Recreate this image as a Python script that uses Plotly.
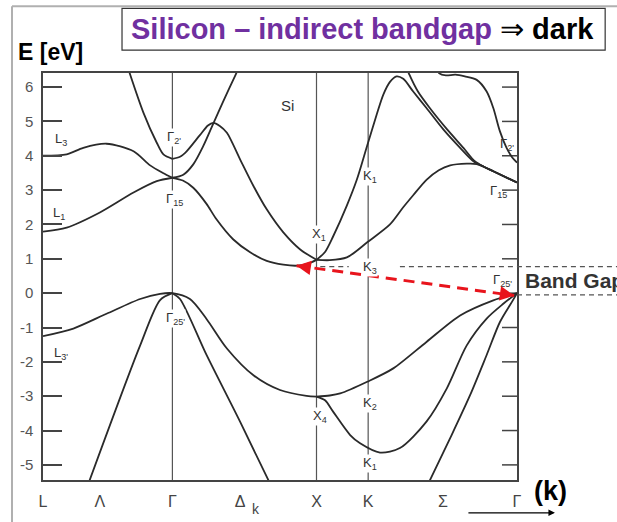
import plotly.graph_objects as go

# ---- high-symmetry points along the k path (fraction of path length) ----
SYM_NAMES = ["L", "Λ", "Γ", "Δ", "X", "K", "Σ", "Γ"]
SYM_K = [0.0, 0.120, 0.273, 0.416, 0.577, 0.686, 0.844, 1.0]
VLINE_K = [0.273, 0.577, 0.686]          # Γ, X, K guide lines
Y_TICKS = [-5, -4, -3, -2, -1, 0, 1, 2, 3, 4, 5, 6]
Y_TICK_TEXT = ["-5", "-4", "-3", "-2", "-1", "0", "1", "2", "3", "4", "5", "6"]

# ---- valence bands ----
VB_TOP_K = [0.0, 0.064, 0.134, 0.205, 0.247, 0.273, 0.310, 0.345, 0.388, 0.444, 0.5, 0.556, 0.577]
VB_TOP_E = [-1.25, -1.03, -0.60, -0.17, -0.02, 0.0, -0.17, -0.75, -1.61, -2.39, -2.82, -2.99, -3.01]
VB_LAM_K = [0.089, 0.205, 0.247, 0.273]
VB_LAM_E = [-5.8, -1.52, -0.20, 0.0]
VB_DEL_K = [0.273, 0.289, 0.345, 0.416, 0.488]
VB_DEL_E = [0.0, -0.17, -1.80, -3.75, -5.8]
VB_K2_K = [0.577, 0.605, 0.627, 0.684, 0.739, 0.809, 0.880, 0.950, 1.0]
VB_K2_E = [-3.01, -2.98, -2.92, -2.58, -2.19, -1.42, -0.65, -0.21, 0.0]
VB_K1_K = [0.577, 0.595, 0.612, 0.648, 0.669, 0.711, 0.753, 0.809, 0.852, 0.894, 0.936, 0.971, 1.0]
VB_K1_E = [-3.01, -3.12, -3.45, -4.13, -4.37, -4.64, -4.51, -3.74, -2.77, -1.52, -0.74, -0.31, 0.0]
VB_SIG_K = [0.804, 0.859, 0.901, 0.936, 0.964, 0.989, 1.0]
VB_SIG_E = [-5.8, -4.22, -2.97, -1.80, -0.84, -0.26, 0.0]

# ---- conduction bands ----
CB_L3_K = [0.0, 0.050, 0.085, 0.134, 0.191, 0.226, 0.253, 0.273]
CB_L3_E = [4.0, 4.04, 4.23, 4.35, 4.13, 3.72, 3.50, 3.36]
CB_L1_K = [0.0, 0.050, 0.120, 0.191, 0.240, 0.273]
CB_L1_E = [1.79, 1.91, 2.35, 2.93, 3.26, 3.36]
CB_G2L_K = [0.177, 0.212, 0.240, 0.254, 0.273]
CB_G2L_E = [6.65, 5.25, 4.38, 4.04, 3.91]
CB_G2X_K = [0.273, 0.289, 0.303, 0.331, 0.348, 0.359, 0.373, 0.388, 0.416, 0.444, 0.472, 0.507, 0.542, 0.577]
CB_G2X_E = [3.91, 3.97, 4.13, 4.60, 4.88, 4.96, 4.87, 4.67, 3.89, 3.12, 2.44, 1.77, 1.28, 0.97]
CB_G15S_K = [0.273, 0.296, 0.317, 0.338, 0.359, 0.380, 0.407, 0.414]
CB_G15S_E = [3.36, 3.45, 3.75, 4.28, 4.93, 5.58, 6.38, 6.6]
CB_D1_K = [0.273, 0.295, 0.317, 0.345, 0.366, 0.401, 0.437, 0.472, 0.507, 0.536, 0.559, 0.577]
CB_D1_E = [3.36, 3.28, 3.07, 2.60, 2.15, 1.57, 1.19, 0.94, 0.83, 0.80, 0.86, 0.97]
CB_K1_K = [0.577, 0.595, 0.612, 0.641, 0.662, 0.684, 0.704, 0.718, 0.732, 0.746, 0.760, 0.781,
           0.809, 0.845, 0.880, 0.908, 0.930, 0.950, 1.0]
CB_K1_E = [0.97, 1.20, 1.65, 2.55, 3.30, 4.30, 5.20, 5.78, 6.15, 6.31, 6.24, 5.87,
           5.39, 4.76, 4.23, 3.84, 3.68, 3.55, 3.22]
CB_B_K = [0.766, 0.773, 0.791, 0.816, 0.853, 0.887, 0.911, 0.930, 0.950, 1.0]
CB_B_E = [6.6, 6.36, 5.87, 5.39, 4.76, 4.23, 3.84, 3.68, 3.55, 3.22]
CB_K3_K = [0.577, 0.605, 0.641, 0.684, 0.732, 0.760, 0.781, 0.809, 0.835, 0.859, 0.894, 0.915,
           0.930, 0.950, 1.0]
CB_K3_E = [0.97, 0.96, 1.04, 1.48, 2.00, 2.50, 2.85, 3.30, 3.58, 3.72, 3.77, 3.76,
           3.68, 3.55, 3.22]
CB_G2R_K = [0.828, 0.836, 0.850, 0.870, 0.890, 0.915, 0.936, 0.950, 0.964, 0.978, 0.990, 1.0]
CB_G2R_E = [6.6, 6.40, 6.34, 6.36, 6.31, 6.21, 5.87, 5.39, 4.71, 4.23, 3.95, 3.80]

# ---- band gap arrow (CB minimum -> VB maximum) ----
GAP_K = [0.535, 0.994]
GAP_E = [0.80, -0.07]

# ---- point labels ----
LABEL_TEXT = ["Si", "L<sub>3</sub>", "L<sub>1</sub>", "Γ<sub>2'</sub>", "Γ<sub>15</sub>",
              "Γ<sub>25'</sub>", "L<sub>3'</sub>", "X<sub>1</sub>", "K<sub>1</sub>",
              "K<sub>3</sub>", "X<sub>4</sub>", "K<sub>2</sub>", "K<sub>1</sub>",
              "Γ<sub>2'</sub>", "Γ<sub>15</sub>", "Γ<sub>25'</sub>"]
LABEL_K = [0.515, 0.038, 0.034, 0.276, 0.277, 0.279, 0.038, 0.582, 0.690,
           0.690, 0.584, 0.690, 0.690, 0.978, 0.961, 0.970]
LABEL_E = [5.46, 4.47, 2.33, 4.52, 2.73, -0.74, -1.76, 1.72, 3.41,
           0.75, -3.59, -3.21, -4.95, 4.33, 2.97, 0.37]
LABEL_BG = [False, False, False, True, True, True, False, True, True,
            True, True, True, True, False, False, False]

BANDS = [
    (VB_TOP_K, VB_TOP_E), (VB_LAM_K, VB_LAM_E), (VB_DEL_K, VB_DEL_E),
    (VB_K2_K, VB_K2_E), (VB_K1_K, VB_K1_E), (VB_SIG_K, VB_SIG_E),
    (CB_L3_K, CB_L3_E), (CB_L1_K, CB_L1_E), (CB_G2L_K, CB_G2L_E),
    (CB_G2X_K, CB_G2X_E), (CB_G15S_K, CB_G15S_E), (CB_D1_K, CB_D1_E),
    (CB_K1_K, CB_K1_E), (CB_B_K, CB_B_E), (CB_K3_K, CB_K3_E), (CB_G2R_K, CB_G2R_E),
]

FONT = "Liberation Sans, Arial, sans-serif"
LINE_COL = "#2a2a2a"

fig = go.Figure()
for kk, ee in BANDS:
    fig.add_trace(go.Scatter(x=kk, y=ee, mode="lines",
                             line=dict(color=LINE_COL, width=1.8, shape="spline", smoothing=0.8),
                             hoverinfo="skip", showlegend=False))

# red dashed gap line
fig.add_trace(go.Scatter(x=GAP_K, y=GAP_E, mode="lines",
                         line=dict(color="#e8141c", width=3, dash="11px,7px"),
                         hoverinfo="skip", showlegend=False))

shapes = []
for xv in VLINE_K:
    shapes.append(dict(type="line", xref="x", yref="paper", x0=xv, x1=xv, y0=0, y1=1,
                       line=dict(color="#555555", width=1.2), layer="below"))
# right-side inner ticks
for yv in Y_TICKS:
    shapes.append(dict(type="line", xref="paper", yref="y", x0=1 - 15 / 474, x1=1, y0=yv, y1=yv,
                       line=dict(color="#444444", width=1.5), layer="below"))
# dotted band-gap guide lines
shapes.append(dict(type="line", xref="paper", yref="y", x0=0.585, x1=0.645, y0=0.77, y1=0.77,
                   line=dict(color="#555555", width=1.3, dash="5px,4px")))
shapes.append(dict(type="line", xref="paper", yref="y", x0=0.753, x1=1.22, y0=0.77, y1=0.77,
                   line=dict(color="#555555", width=1.3, dash="5px,4px")))
shapes.append(dict(type="line", xref="paper", yref="y", x0=1.0, x1=1.22, y0=-0.05, y1=-0.05,
                   line=dict(color="#555555", width=1.3, dash="5px,4px")))
# title box
shapes.append(dict(type="rect", xref="paper", yref="paper", x0=0.1667, x1=1.186, y0=1.0562, y1=1.159,
                   line=dict(color="#333333", width=1.2), fillcolor="white"))
# outer slide frame
shapes.append(dict(type="line", xref="paper", yref="paper", x0=-0.0654, x1=-0.0654, y0=-0.2, y1=1.164,
                   line=dict(color="#b0b0b0", width=2)))
shapes.append(dict(type="line", xref="paper", yref="paper", x0=-0.0654, x1=1.3, y0=1.164, y1=1.164,
                   line=dict(color="#b0b0b0", width=2)))

ann = []
for t, kx, ey, bg in zip(LABEL_TEXT, LABEL_K, LABEL_E, LABEL_BG):
    ann.append(dict(x=kx, y=ey, xref="x", yref="y", text=t, showarrow=False,
                    font=dict(family=FONT, size=13 if t != "Si" else 15, color="#333333"),
                    bgcolor="white" if bg else None, borderpad=0))

# arrowheads of the gap arrow
ann.append(dict(x=GAP_K[1], y=GAP_E[1], xref="x", yref="y", ax=-13, ay=-2, text="",
                showarrow=True, arrowhead=2, arrowsize=1.1, arrowwidth=2.6, arrowcolor="#e8141c"))
ann.append(dict(x=GAP_K[0], y=GAP_E[0], xref="x", yref="y", ax=13, ay=2, text="",
                showarrow=True, arrowhead=2, arrowsize=1.1, arrowwidth=2.6, arrowcolor="#e8141c"))

ann.append(dict(x=1.012, y=0.36, xref="paper", yref="y", xanchor="left", yanchor="middle",
                text="<b>Band Gap</b>", showarrow=False,
                font=dict(family=FONT, size=21, color="#333333")))
ann.append(dict(x=0.182, y=1.1076, xref="paper", yref="paper", xanchor="left", yanchor="middle",
                text="<b><span style='color:#7030A0'>Silicon – indirect bandgap</span></b> ⇒ <b>dark</b>",
                showarrow=False, font=dict(family=FONT, size=29, color="black")))
ann.append(dict(x=-0.056, y=1.051, xref="paper", yref="paper", xanchor="left", yanchor="middle",
                text="<b>E [eV]</b>", showarrow=False, font=dict(family=FONT, size=23, color="black")))
ann.append(dict(x=1.032, y=-0.027, xref="paper", yref="paper", xanchor="left", yanchor="middle",
                text="<b>(k)</b>", showarrow=False, font=dict(family=FONT, size=27, color="black")))
ann.append(dict(x=1.080, y=-0.0807, xref="paper", yref="paper", ax=-88, ay=0, text="",
                showarrow=True, arrowhead=2, arrowsize=1, arrowwidth=1.3, arrowcolor="black"))
ann.append(dict(x=0.449, y=-0.071, xref="paper", yref="paper", yanchor="middle", text="k",
                showarrow=False, font=dict(family=FONT, size=14, color="#444444")))

fig.update_layout(
    width=617, height=522,
    margin=dict(l=43, r=100, t=73, b=40),
    paper_bgcolor="white", plot_bgcolor="white",
    shapes=shapes, annotations=ann,
    xaxis=dict(range=[0, 1], tickvals=SYM_K, ticktext=SYM_NAMES, ticks="",
               showgrid=False, zeroline=False, showline=True, mirror=True,
               linecolor="#444444", linewidth=1.5,
               tickfont=dict(family=FONT, size=16, color="#444444"), ticklabelstandoff=6),
    yaxis=dict(range=[-5.44, 6.41], tickvals=Y_TICKS, ticktext=Y_TICK_TEXT, ticks="inside",
               ticklen=19, tickwidth=1.5, tickcolor="#444444",
               showgrid=False, zeroline=False, showline=True, mirror=True,
               linecolor="#444444", linewidth=1.5,
               tickfont=dict(family=FONT, size=15, color="#555555"), ticklabelstandoff=5),
)

fig.write_html("out.html", config={"displayModeBar": False},
               post_script="document.body.style.margin='0';document.body.style.overflow='hidden';")
